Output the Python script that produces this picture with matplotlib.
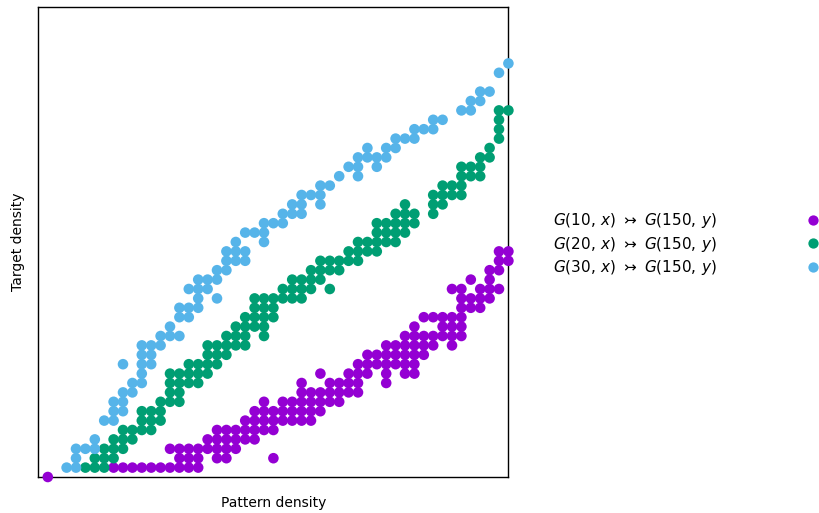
import matplotlib
matplotlib.use("Agg")
import matplotlib.pyplot as plt
from matplotlib.lines import Line2D

# grid cells (row y -> list of x columns)
g10_rows = {
    0: [1],
    1: [8, 9, 10, 11, 12, 13, 14, 15, 16, 17],
    2: [15, 16, 17, 19, 20, 25],
    3: [14, 15, 16, 17, 18, 19, 20, 21],
    4: [18, 19, 20, 21, 22, 23],
    5: [19, 20, 21, 22, 23, 24, 25],
    6: [22, 23, 24, 25, 26, 27, 28, 29],
    7: [23, 24, 25, 26, 27, 28, 29, 30],
    8: [24, 26, 27, 28, 29, 30, 31, 32],
    9: [28, 29, 30, 31, 32, 33, 34],
    10: [28, 31, 32, 33, 34, 37],
    11: [30, 33, 34, 35, 37, 39, 40],
    12: [34, 35, 36, 37, 38, 39, 40],
    13: [35, 36, 37, 38, 39, 40, 41],
    14: [37, 38, 39, 40, 41, 42, 44],
    15: [39, 40, 41, 42, 43, 44, 45],
    16: [40, 43, 44, 45],
    17: [41, 42, 43, 44, 45],
    18: [45, 46, 47],
    19: [45, 46, 47, 48],
    20: [44, 45, 47, 48, 49],
    21: [46, 48],
    22: [48, 49],
    23: [49, 50],
    24: [49, 50],
}

g20_rows = {
    1: [5, 6, 7],
    2: [6, 7, 8],
    3: [7, 8, 9],
    4: [8, 9, 10],
    5: [9, 10, 11, 12],
    6: [11, 12, 13],
    7: [11, 12, 13],
    8: [13, 14, 15],
    9: [14, 15],
    10: [14, 15, 16, 17],
    11: [14, 15, 16, 17, 18],
    12: [16, 17, 18, 19],
    13: [18, 19, 20],
    14: [18, 19, 20, 21, 22],
    15: [20, 21, 22, 24],
    16: [21, 22, 23, 24],
    17: [22, 23, 24, 25],
    18: [23, 24, 25],
    19: [23, 24, 25, 26, 27, 28],
    20: [26, 27, 28, 29, 31],
    21: [27, 28, 29, 30],
    22: [29, 30, 31, 32],
    23: [30, 31, 32, 33, 34],
    24: [33, 34, 35, 36],
    25: [34, 35, 36, 37, 38],
    26: [36, 37, 38, 39],
    27: [36, 37, 38, 39, 40],
    28: [38, 39, 40, 42],
    29: [39, 42, 43],
    30: [42, 43, 44, 45],
    31: [43, 44, 45],
    32: [45, 46, 47],
    33: [45, 46, 47],
    34: [47, 48],
    35: [48],
    36: [49],
    37: [49],
    38: [49],
    39: [49, 50],
}

g30_rows = {
    1: [3, 4],
    2: [4],
    3: [4, 5, 6],
    4: [6],
    6: [7, 8],
    7: [8, 9],
    8: [8, 9],
    9: [9, 10],
    10: [10, 11],
    11: [11],
    12: [9, 11, 12],
    13: [11, 12],
    14: [11, 12, 13],
    15: [13, 14, 15],
    16: [14],
    17: [15, 16],
    18: [15, 16, 17],
    19: [17, 19],
    20: [16, 17, 18],
    21: [17, 18, 19],
    22: [19, 20],
    23: [20, 21, 22],
    24: [20, 21, 22],
    25: [21, 24],
    26: [22, 23, 24],
    27: [24, 25, 26],
    28: [26, 27, 28],
    29: [27, 28, 30],
    30: [28, 29, 30],
    31: [30, 31],
    32: [32, 34],
    33: [33, 34, 36],
    34: [34, 35, 36, 37],
    35: [35, 37, 38],
    36: [38, 39, 40],
    37: [40, 41, 42],
    38: [42, 43],
    39: [45, 46],
    40: [46, 47],
    41: [47, 48],
    43: [49],
    44: [50],
}

series = [
    (r"$G(10,\, x)\ \rightarrowtail\ G(150,\, y)$", g10_rows, "#9400D3"),
    (r"$G(20,\, x)\ \rightarrowtail\ G(150,\, y)$", g20_rows, "#009E73"),
    (r"$G(30,\, x)\ \rightarrowtail\ G(150,\, y)$", g30_rows, "#56B4E9"),
]


def flatten(rows):
    xs, ys = [], []
    for y, cols in rows.items():
        for x in cols:
            xs.append(x)
            ys.append(y)
    return xs, ys


plt.rcParams["mathtext.fontset"] = "dejavusans"
plt.rcParams["font.family"] = "DejaVu Sans"

fig = plt.figure(figsize=(8.2, 5.13), dpi=100)
ax = fig.add_axes([38.4 / 820, 36 / 513, 470 / 820, 470 / 513])

handles = []
for label, rows, color in series:
    xs, ys = flatten(rows)
    ax.scatter(xs, ys, s=58, color=color, edgecolors="none", clip_on=False, zorder=3)
    handles.append(Line2D([], [], linestyle="none", marker="o", markersize=7.4,
                          markerfacecolor=color, markeredgecolor="none", label=label))

ax.set_xlim(0, 50)
ax.set_ylim(0, 50)
ax.set_xticks([])
ax.set_yticks([])
for spine in ax.spines.values():
    spine.set_linewidth(1.0)

ax.set_xlabel("Pattern density", fontsize=10, labelpad=14)
ax.set_ylabel("Target density", fontsize=10, labelpad=10)

fig.legend(handles=handles, loc="center left", bbox_to_anchor=(553 / 820, 1 - 244 / 513),
           frameon=False, markerfirst=False, fontsize=11, handletextpad=5.8,
           labelspacing=0.3, borderpad=0, borderaxespad=0, handlelength=1.0)

fig.savefig("out.png", dpi=100, facecolor="white")
